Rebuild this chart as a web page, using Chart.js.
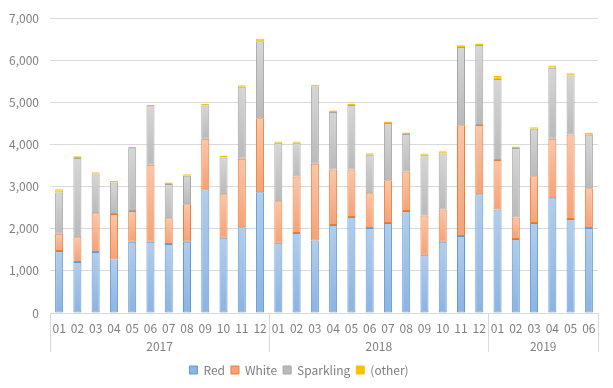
<!DOCTYPE html>
<html>
<head>
<meta charset="utf-8">
<script src="https://cdn.jsdelivr.net/npm/chart.js@4/dist/chart.umd.min.js"></script>
<style>
html,body{margin:0;padding:0;background:#fff;}
#wrap{width:613px;height:388px;position:relative;}
</style>
</head>
<body>
<div id="wrap"><canvas id="c" width="613" height="388"></canvas></div>
<script>
const months = ['01','02','03','04','05','06','07','08','09','10','11','12',
                '01','02','03','04','05','06','07','08','09','10','11','12',
                '01','02','03','04','05','06'];
const years = ['2017','2018','2019'];
const yearCounts = [12,12,6];
const seriesNames = ['Red','White','Sparkling','(other)'];
const red = [1470,1210,1450,1270,1690,1690,1640,1690,2940,1785,2035,2865,
             1670,1900,1720,2090,2280,2020,2140,2420,1385,1690,1830,2820,
             2460,1760,2140,2725,2230,2020];
const white = [410,590,920,1080,730,1830,610,890,1200,1035,1630,1760,
               985,1340,1825,1315,1125,825,1010,940,930,770,2630,1645,
               1175,510,1105,1410,2010,940];
const sparkling = [980,1880,940,750,1490,1390,815,680,790,875,1705,1830,
                   1385,800,1835,1370,1535,915,1360,890,1440,1330,1855,1900,
                   1920,1650,1130,1690,1400,1270];
const other = [80,40,35,35,35,35,35,35,40,45,40,55,
               35,35,35,35,35,35,35,35,35,50,40,35,
               75,35,35,50,50,50];
const yTicks = [0,1000,2000,3000,4000,5000,6000,7000];

const FONT = '"Noto Sans CJK KR", "Noto Sans", sans-serif';
const TXT = '#7f7f7f';
const GRID = '#d9d9d9';

const styles = [
  {top:'#b3cdeb', bottom:'#8db3e2', border:'#5b9bd5'},
  {top:'#f9c6ab', bottom:'#f4a278', border:'#ed7d31'},
  {top:'#d6d6d6', bottom:'#bababa', border:'#a5a5a5'},
  {top:'#ffd966', bottom:'#ffc000', border:'#ffc000'}
];
const allSeries = [red, white, sparkling, other];

function gradFor(si){
  return function(ctx){
    const chart = ctx.chart;
    const st = styles[si];
    if (ctx.type !== 'data') return st.bottom;
    const ys = chart.scales && chart.scales.y;
    if (!ys || !chart.chartArea) return st.bottom;
    const i = ctx.dataIndex;
    let base = 0;
    for (let k = 0; k < si; k++) base += allSeries[k][i];
    const topV = base + allSeries[si][i];
    const yTop = ys.getPixelForValue(topV);
    const yBot = ys.getPixelForValue(base);
    if (!isFinite(yTop) || !isFinite(yBot) || yTop === yBot) return st.bottom;
    const g = chart.ctx.createLinearGradient(0, yTop, 0, yBot);
    g.addColorStop(0, st.top);
    g.addColorStop(1, st.bottom);
    return g;
  };
}

const datasets = allSeries.map((arr, si) => ({
  label: seriesNames[si],
  data: arr,
  backgroundColor: gradFor(si),
  borderColor: styles[si].border,
  borderWidth: 1,
  borderSkipped: false,
  categoryPercentage: 0.44,
  barPercentage: 1.0
}));

const yearPlugin = {
  id: 'yearAxis',
  afterDraw(chart){
    const ctx = chart.ctx;
    const xs = chart.scales.x;
    const ca = chart.chartArea;
    const bottomLine = ca.bottom;
    const lineEnd = 352;
    ctx.save();
    ctx.strokeStyle = GRID;
    ctx.lineWidth = 1;
    ctx.beginPath();
    ctx.moveTo(ca.left, Math.round(bottomLine) + 0.5);
    ctx.lineTo(ca.right, Math.round(bottomLine) + 0.5);
    ctx.stroke();
    let idx = 0;
    const bounds = [0];
    yearCounts.forEach(c => { idx += c; bounds.push(idx); });
    bounds.forEach(b => {
      const x = Math.round(xs.getPixelForValue(b - 0.5)) + 0.5;
      ctx.beginPath();
      ctx.moveTo(x, bottomLine);
      ctx.lineTo(x, lineEnd);
      ctx.stroke();
    });
    ctx.fillStyle = TXT;
    ctx.font = '12px ' + FONT;
    ctx.textAlign = 'center';
    ctx.textBaseline = 'middle';
    for (let k = 0; k < years.length; k++) {
      const x0 = xs.getPixelForValue(bounds[k] - 0.5);
      const x1 = xs.getPixelForValue(bounds[k+1] - 0.5);
      ctx.fillText(years[k], (x0 + x1) / 2, 346);
    }
    ctx.restore();
  }
};

new Chart(document.getElementById('c'), {
  type: 'bar',
  data: { labels: months, datasets },
  options: {
    responsive: false,
    animation: false,
    devicePixelRatio: 1,
    layout: { padding: { left: 0, right: 15, top: 12, bottom: 2 } },
    plugins: {
      tooltip: { enabled: false },
      legend: {
        position: 'bottom',
        labels: {
          boxWidth: 8,
          boxHeight: 8,
          padding: 6,
          color: TXT,
          font: { family: FONT, size: 12 },
          generateLabels(chart){
            return chart.data.datasets.map((d, i) => ({
              text: d.label,
              fillStyle: styles[i].bottom,
              strokeStyle: styles[i].border,
              lineWidth: 1,
              hidden: false,
              datasetIndex: i,
              fontColor: TXT
            }));
          }
        }
      }
    },
    scales: {
      x: {
        stacked: true,
        grid: { display: false, drawTicks: false },
        border: { display: false },
        ticks: { color: TXT, font: { family: FONT, size: 12 }, padding: 8, maxRotation: 0, autoSkip: false },
        afterFit(scale){ scale.height = 45; }
      },
      y: {
        stacked: true,
        min: 0,
        max: 7000,
        afterBuildTicks(scale){ scale.ticks = yTicks.map(v => ({value: v})); },
        grid: { color: GRID, drawTicks: false },
        border: { display: false },
        ticks: {
          color: TXT,
          font: { family: FONT, size: 12 },
          padding: 11,
          callback: v => Number(v).toLocaleString('en-US')
        },
        afterFit(scale){ scale.width = 50; }
      }
    }
  },
  plugins: [yearPlugin]
});
</script>
</body>
</html>
